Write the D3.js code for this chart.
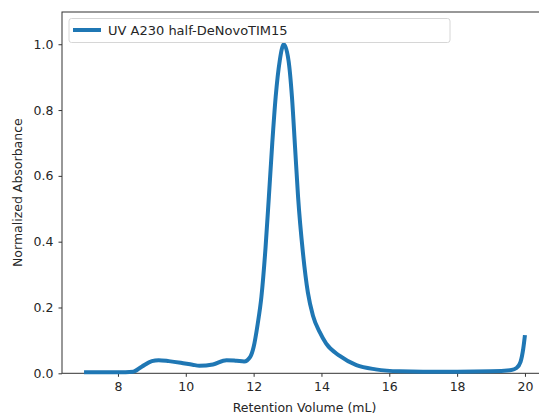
<!DOCTYPE html>
<html>
  <head>
    <meta charset="utf-8" />
    <title>SEC trace</title>
    <style>
      body { margin: 0; background: #fff; }
      svg text { font-family: "DejaVu Sans", sans-serif; fill: #262626; }
    </style>
  </head>
  <body>
    <svg width="539" height="417"></svg>
    <script src="https://d3js.org/d3.v7.min.js"></script>
    <script>
      // data
      const volume = [7.0, 8.0, 8.45, 8.7, 9.0, 9.2, 9.5, 9.85, 10.2, 10.4, 10.8, 11.2, 11.5, 11.72, 11.9,
        12.0, 12.12, 12.23, 12.35, 12.45, 12.55, 12.65, 12.77, 12.89, 13.03, 13.13, 13.22, 13.31, 13.45,
        13.6, 13.75, 13.95, 14.14, 14.54, 15.03, 15.6, 16.3, 17, 18, 19, 19.6, 19.75, 19.87, 19.95, 20.0];
      const absorbance = [0.003, 0.003, 0.005, 0.02, 0.037, 0.04, 0.037, 0.032, 0.026, 0.023, 0.027, 0.04, 0.038, 0.036, 0.05,
        0.08, 0.15, 0.233, 0.38, 0.537, 0.7, 0.84, 0.95, 1.0, 0.95, 0.84, 0.69, 0.537, 0.37,
        0.245, 0.175, 0.125, 0.09, 0.053, 0.025, 0.012, 0.006, 0.005, 0.005, 0.006, 0.01, 0.016, 0.035, 0.075, 0.116];
      const xTicks = [8, 10, 12, 14, 16, 18, 20];
      const yTicks = [0, 0.2, 0.4, 0.6, 0.8, 1.0];
      const seriesName = "UV A230 half-DeNovoTIM15";

      const svg = d3.select("svg");
      const mLeft = 62, mRight = 547, mTop = 12, mBottom = 373.3;

      const x = d3.scaleLinear().domain([6.35, 20.65]).range([mLeft, mRight]);
      const y = d3.scaleLinear().domain([0, 1.098]).range([mBottom, mTop]);

      const pts = volume.map((v, i) => [v, absorbance[i]]);

      // axes
      const xAxis = svg.append("g")
        .attr("transform", `translate(0,${mBottom})`)
        .call(d3.axisBottom(x).tickValues(xTicks).tickFormat(d3.format("d")).tickSize(3.5).tickPadding(5));
      const yAxis = svg.append("g")
        .attr("transform", `translate(${mLeft},0)`)
        .call(d3.axisLeft(y).tickValues(yTicks).tickFormat(d3.format(".1f")).tickSize(3.5).tickPadding(5));

      [xAxis, yAxis].forEach(a => {
        a.select(".domain").remove();
        a.selectAll("line").attr("stroke", "#333").attr("stroke-width", 1);
        a.selectAll("text").style("font-size", "12.5px").style("font-family", "DejaVu Sans, sans-serif").attr("fill", "#262626");
      });

      // spines
      svg.append("rect")
        .attr("x", mLeft).attr("y", mTop)
        .attr("width", mRight - mLeft).attr("height", mBottom - mTop)
        .attr("fill", "none").attr("stroke", "#333").attr("stroke-width", 1);

      // the trace
      svg.append("path")
        .datum(pts)
        .attr("fill", "none")
        .attr("stroke", "#1f77b4")
        .attr("stroke-width", 4)
        .attr("stroke-linejoin", "round")
        .attr("stroke-linecap", "butt")
        .attr("d", d3.line().x(d => x(d[0])).y(d => y(d[1])).curve(d3.curveMonotoneX));

      // legend
      const lg = svg.append("g");
      lg.append("rect")
        .attr("x", 69).attr("y", 18.5).attr("width", 381).attr("height", 24)
        .attr("rx", 2.5)
        .attr("fill", "#fff").attr("fill-opacity", 0.8)
        .attr("stroke", "#d6d6d6");
      lg.append("line")
        .attr("x1", 73).attr("x2", 101).attr("y1", 30).attr("y2", 30)
        .attr("stroke", "#1f77b4").attr("stroke-width", 4);
      lg.append("text")
        .attr("x", 108).attr("y", 35)
        .style("font-size", "13px")
        .text(seriesName);

      // axis labels
      svg.append("text")
        .attr("x", (mLeft + mRight) / 2).attr("y", 412)
        .attr("text-anchor", "middle")
        .style("font-size", "12.5px")
        .text("Retention Volume (mL)");
      svg.append("text")
        .attr("transform", `translate(22,${(mTop + mBottom) / 2}) rotate(-90)`)
        .attr("text-anchor", "middle")
        .style("font-size", "12.5px")
        .text("Normalized Absorbance");
    </script>
  </body>
</html>
